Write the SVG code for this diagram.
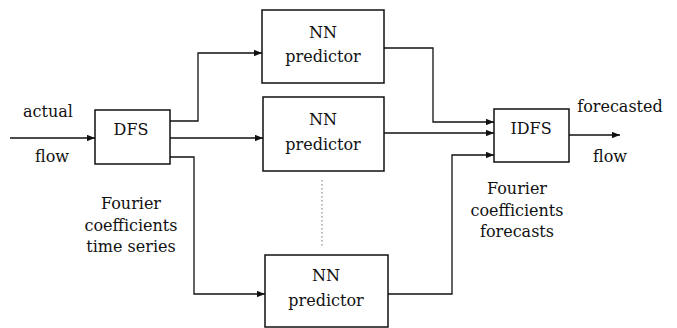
<svg xmlns="http://www.w3.org/2000/svg" width="677" height="328" viewBox="0 0 677 328">
<defs>
<marker id="ah" viewBox="0 0 10 8" refX="10" refY="4" markerWidth="8" markerHeight="6.4" markerUnits="userSpaceOnUse" orient="auto">
<path d="M0,0 L10,4 L0,8 z" fill="#111"/>
</marker>
<style>
.box{fill:#fff;stroke:#111;stroke-width:1.5}
.ln{fill:none;stroke:#111;stroke-width:1.3}
.t{font-family:'DejaVu Serif','Liberation Serif',serif;font-size:16px;fill:#111;text-anchor:middle}
</style>
</defs>
<rect width="677" height="328" fill="#fff"/>
<g id="connectors">
<line class="ln" x1="10" y1="138" x2="95" y2="138" marker-end="url(#ah)"/>
<polyline class="ln" points="170,121 198,121 198,53 262,53" marker-end="url(#ah)"/>
<line class="ln" x1="170" y1="138" x2="263" y2="138" marker-end="url(#ah)"/>
<polyline class="ln" points="170,157 194,157 194,294 265,294" marker-end="url(#ah)"/>
<polyline class="ln" points="384,48 433,48 433,122 494,122" marker-end="url(#ah)"/>
<line class="ln" x1="384" y1="133" x2="494" y2="133" marker-end="url(#ah)"/>
<polyline class="ln" points="388,294 452,294 452,155 494,155" marker-end="url(#ah)"/>
<line class="ln" x1="569" y1="135" x2="620" y2="135" marker-end="url(#ah)"/>
<line x1="322" y1="180" x2="322" y2="247" stroke="#777" stroke-width="1" stroke-dasharray="1.5,2.5"/>
</g>
<g id="dfs">
<rect class="box" x="95" y="110" width="75" height="54"/>
<text class="t" x="131" y="135">DFS</text>
</g>
<g id="nn1">
<rect class="box" x="262" y="10" width="122" height="73"/>
<text class="t" x="323" y="38">NN</text>
<text class="t" x="323" y="62">predictor</text>
</g>
<g id="nn2">
<rect class="box" x="263" y="97" width="121" height="74"/>
<text class="t" x="323" y="125">NN</text>
<text class="t" x="323" y="150">predictor</text>
</g>
<g id="nn3">
<rect class="box" x="265" y="255" width="123" height="72"/>
<text class="t" x="326" y="281">NN</text>
<text class="t" x="326" y="306">predictor</text>
</g>
<g id="idfs">
<rect class="box" x="494" y="109" width="75" height="53"/>
<text class="t" x="531" y="134">IDFS</text>
</g>
<g id="labels">
<text class="t" x="48" y="117">actual</text>
<text class="t" x="52" y="162">flow</text>
<text class="t" x="620" y="112">forecasted</text>
<text class="t" x="610" y="162">flow</text>
<text class="t" x="131" y="209">Fourier</text>
<text class="t" x="131" y="231">coefficients</text>
<text class="t" x="131" y="252">time series</text>
<text class="t" x="517" y="194">Fourier</text>
<text class="t" x="517" y="216">coefficients</text>
<text class="t" x="517" y="237">forecasts</text>
</g>
</svg>
